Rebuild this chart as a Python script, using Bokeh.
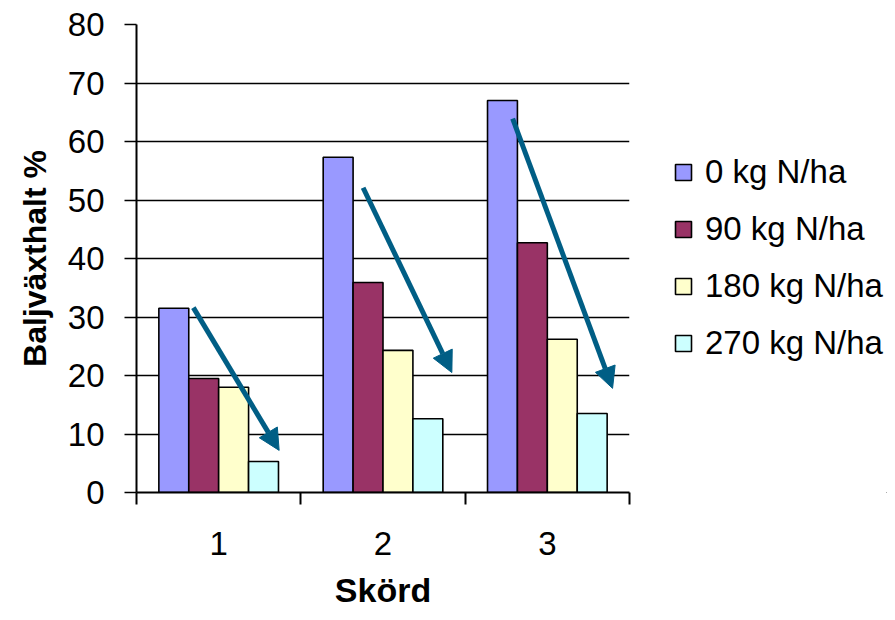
from bokeh.plotting import figure
from bokeh.layouts import row
from bokeh.models import FixedTicker, Range1d, Legend, LegendItem, Arrow, NormalHead
from bokeh.embed import file_html
from bokeh.resources import INLINE

# ---- data ----
harvests = ["1", "2", "3"]
series = ["0 kg N/ha", "90 kg N/ha", "180 kg N/ha", "270 kg N/ha"]
v0 = [31.5, 57.3, 67.0]
v90 = [19.5, 35.9, 42.7]
v180 = [18.0, 24.3, 26.2]
v270 = [5.3, 12.6, 13.5]
colors = ["#9999FF", "#993366", "#FFFFCC", "#CCFFFF"]
y_ticks = [0, 10, 20, 30, 40, 50, 60, 70, 80]

# arrow annotations (data coordinates: harvest index, percent)
arrow_x_start = [0.846, 1.879, 2.789]
arrow_y_start = [31.6, 52.1, 63.9]
arrow_x_end = [1.368, 2.419, 3.397]
arrow_y_end = [7.2, 20.5, 17.8]
arrow_color = "#005E85"

FONT = "Liberation Sans"

p = figure(width=632, height=612, output_backend="svg", toolbar_location=None,
           x_range=Range1d(0.5, 3.5), y_range=Range1d(0, 80),
           min_border_left=136, min_border_right=3,
           min_border_top=24, min_border_bottom=120)
p.outline_line_color = None
p.background_fill_color = "white"
p.border_fill_color = "white"

values = [v0, v90, v180, v270]
bar_w = 0.182
offsets = [-1.5 * bar_w, -0.5 * bar_w, 0.5 * bar_w, 1.5 * bar_w]
for vals, off, col in zip(values, offsets, colors):
    xs = [i + 1 + off for i in range(len(harvests))]
    p.vbar(x=xs, top=vals, width=bar_w, bottom=0, fill_color=col,
           line_color="black", line_width=1.6)

for xs, ys, xe, ye in zip(arrow_x_start, arrow_y_start, arrow_x_end, arrow_y_end):
    p.add_layout(Arrow(end=NormalHead(size=21, fill_color=arrow_color, line_color=arrow_color, line_width=1),
                       x_start=xs, y_start=ys, x_end=xe, y_end=ye,
                       line_color=arrow_color, line_width=5))

# axes
xa = p.xaxis[0]
xa.ticker = FixedTicker(ticks=[1, 2, 3], minor_ticks=[0.5, 1.5, 2.5, 3.5])
xa.major_label_overrides = {i + 1: h for i, h in enumerate(harvests)}
xa.major_tick_line_color = None
xa.minor_tick_line_color = "black"
xa.minor_tick_line_width = 2
xa.minor_tick_in = 0
xa.minor_tick_out = 12
xa.axis_line_width = 2
xa.axis_line_color = "black"
xa.major_label_text_font = FONT
xa.major_label_text_font_size = "33px"
xa.major_label_text_color = "black"
xa.major_label_standoff = 27
xa.axis_label = "Skörd"
xa.axis_label_text_font = FONT
xa.axis_label_text_font_size = "34px"
xa.axis_label_text_font_style = "bold"
xa.axis_label_text_color = "black"
xa.axis_label_standoff = 13

ya = p.yaxis[0]
ya.ticker = FixedTicker(ticks=y_ticks, minor_ticks=[])
ya.major_tick_line_color = "black"
ya.major_tick_line_width = 1.6
ya.major_tick_in = 0
ya.major_tick_out = 12
ya.axis_line_width = 2
ya.axis_line_color = "black"
ya.major_label_text_font = FONT
ya.major_label_text_font_size = "33px"
ya.major_label_text_color = "black"
ya.major_label_standoff = 20
ya.axis_label = "Baljväxthalt %"
ya.axis_label_text_font = FONT
ya.axis_label_text_font_size = "32px"
ya.axis_label_text_font_style = "bold"
ya.axis_label_text_color = "black"
ya.axis_label_standoff = 12

p.xgrid.grid_line_color = None
p.ygrid.grid_line_color = "black"
p.ygrid.grid_line_width = 1.6
p.ygrid.ticker = FixedTicker(ticks=y_ticks)

# legend panel (separate figure to the right of the chart)
lf = figure(width=255, height=612, output_backend="svg", toolbar_location=None,
            x_range=Range1d(0, 1), y_range=Range1d(0, 1),
            x_axis_location=None, y_axis_location=None,
            min_border=0)
lf.outline_line_color = None
lf.xgrid.visible = False
lf.ygrid.visible = False
swatches = []
for col in colors:
    # swatch-only renderer: its single bar lies outside the visible range
    swatches.append(lf.vbar(x=[5], top=[-5], bottom=-6, width=0.1, fill_color=col,
                            line_color="black", line_width=1.6))
legend = Legend(items=[LegendItem(label=s, renderers=[r]) for s, r in zip(series, swatches)],
                location=(41, 130), orientation="vertical",
                padding=0, margin=0, border_line_color=None, background_fill_alpha=0,
                glyph_width=20, glyph_height=20, label_standoff=12,
                label_height=38, spacing=19,
                label_text_font=FONT, label_text_font_size="33px", label_text_color="black")
lf.add_layout(legend, "center")

layout = row(p, lf, spacing=0)
open("out.html", "w").write(file_html(layout, INLINE))
